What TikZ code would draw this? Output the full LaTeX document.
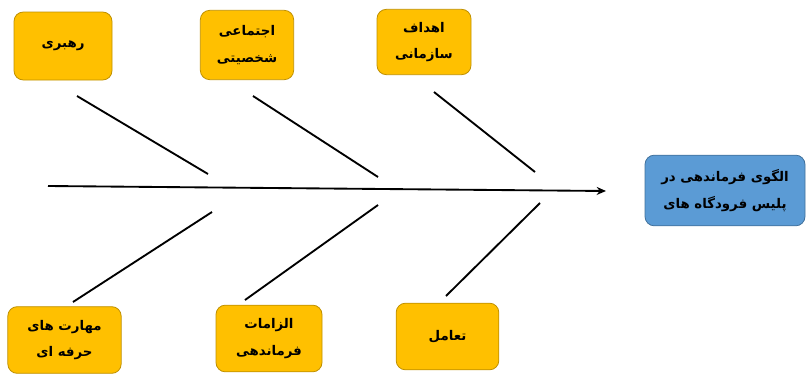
\documentclass[tikz,border=0pt]{standalone}
\usepackage{fontspec}
\newfontfamily\arabicfont[Script=Arabic]{DejaVu Sans}
\TeXXeTstate=1
\usetikzlibrary{arrows.meta}
\definecolor{boxfill}{HTML}{FFC000}
\definecolor{boxline}{HTML}{BF9000}
\definecolor{bluefill}{HTML}{5B9BD5}
\definecolor{blueline}{HTML}{41719C}
\tikzset{
  cause/.style={draw=boxline, fill=boxfill, rounded corners=7pt, line width=0.6pt,
    align=center, font=\arabicfont\bfseries\fontsize{10}{20}\selectfont, inner sep=0pt},
  effect/.style={cause, draw=blueline, fill=bluefill},
  bone/.style={line width=1.4pt, black},
  spine/.style={line width=1.4pt, black, -{Stealth[length=7pt,width=6pt]}}
}
\begin{document}
\begin{tikzpicture}[x=0.75pt,y=-0.75pt]
\useasboundingbox (0,0) rectangle (808,375);
% cause boxes
\node[cause, minimum width=73.5pt, minimum height=51pt] (lead) at (63,46) {\beginR رهبری\endR};
\node[cause, minimum width=70pt, minimum height=52pt] (soc) at (247,45) {\beginR اجتماعی\endR\\\beginR شخصیتی\endR};
\node[cause, minimum width=70.5pt, minimum height=49pt] (goal) at (424,42) {\beginR اهداف\endR\\\beginR سازمانی\endR};
\node[cause, minimum width=85pt, minimum height=50pt] (skill) at (64.5,340) {\beginR مهارت های\endR\\\beginR حرفه ای\endR};
\node[cause, minimum width=79.5pt, minimum height=50pt] (req) at (269,338.5) {\beginR الزامات\endR\\\beginR فرماندهی\endR};
\node[cause, minimum width=77pt, minimum height=50pt] (inter) at (447.5,336.5) {\beginR تعامل\endR};
% effect box
\node[effect, minimum width=120pt, minimum height=53pt] (eff) at (725,190.5) {\beginR الگوی فرماندهی در\endR\\\beginR پلیس فرودگاه های\endR};
% spine
\coordinate (s0) at (48,186);
\coordinate (s1) at (606,191);
\draw[spine] (s0) -- (s1);
% bones
\coordinate (a0) at (77,96);   \coordinate (a1) at (208,174);
\coordinate (b0) at (253,96);  \coordinate (b1) at (378,177);
\coordinate (c0) at (434,92);  \coordinate (c1) at (535,172);
\coordinate (d0) at (73,302);  \coordinate (d1) at (212,212);
\coordinate (e0) at (245,300); \coordinate (e1) at (378,205);
\coordinate (f0) at (446,296); \coordinate (f1) at (540,203);
\draw[bone] (a0) -- (a1);
\draw[bone] (b0) -- (b1);
\draw[bone] (c0) -- (c1);
\draw[bone] (d0) -- (d1);
\draw[bone] (e0) -- (e1);
\draw[bone] (f0) -- (f1);
\end{tikzpicture}
\end{document}
